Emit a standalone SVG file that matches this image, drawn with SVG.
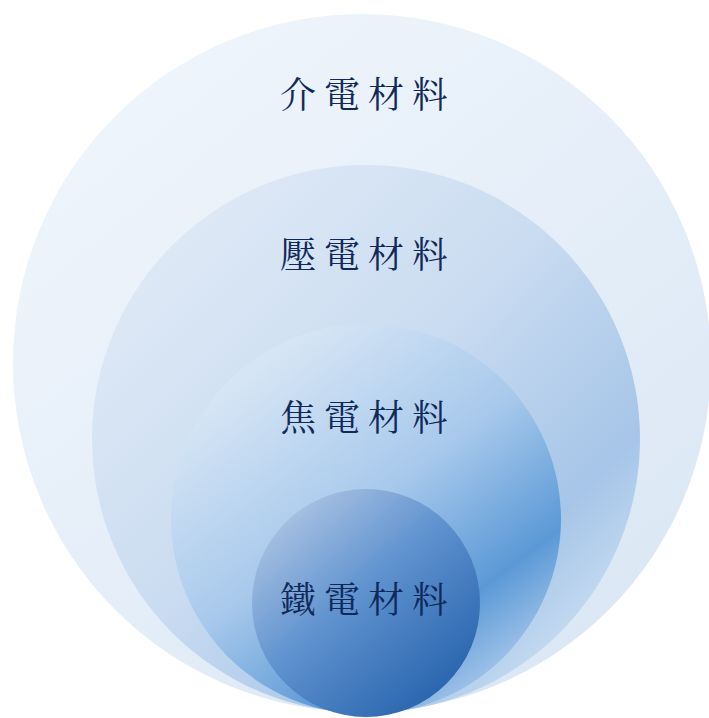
<svg xmlns="http://www.w3.org/2000/svg" width="709" height="718" viewBox="0 0 709 718">
  <defs>
    <linearGradient id="g1" x1="0.2" y1="0.1" x2="0.85" y2="0.9">
      <stop offset="0" stop-color="#eef4fb"/>
      <stop offset="0.6" stop-color="#e3edf8"/>
      <stop offset="1" stop-color="#dbe7f4"/>
    </linearGradient>
    <linearGradient id="g2" x1="0.2" y1="0.1" x2="0.9" y2="0.8">
      <stop offset="0" stop-color="#dde8f5"/>
      <stop offset="0.45" stop-color="#cadcf1"/>
      <stop offset="0.85" stop-color="#a6c5e8"/>
      <stop offset="1" stop-color="#c0d7ef"/>
    </linearGradient>
    <linearGradient id="g3" x1="0.3" y1="0.05" x2="0.9" y2="0.85">
      <stop offset="0" stop-color="#d6e5f5"/>
      <stop offset="0.45" stop-color="#a8c9ec"/>
      <stop offset="0.8" stop-color="#5b99d6"/>
      <stop offset="1" stop-color="#a2c4e9"/>
    </linearGradient>
    <linearGradient id="g4" x1="0.15" y1="0.1" x2="0.85" y2="0.9">
      <stop offset="0" stop-color="#a9c2e2"/>
      <stop offset="0.45" stop-color="#5f92cf"/>
      <stop offset="1" stop-color="#2864ad"/>
    </linearGradient>
  </defs>
  <style>
    .lbl { font-family: "Noto Serif CJK TC", "Noto Sans CJK TC", serif; font-size: 36px; fill: #0f2a5a; text-anchor: middle; letter-spacing: 8px; }
  </style>
  <rect width="709" height="718" fill="#ffffff"/>
  <g id="node-dielectric">
    <circle cx="362" cy="363" r="349" fill="url(#g1)"/>
    <text class="lbl" x="368" y="108">介電材料</text>
  </g>
  <g id="node-piezoelectric">
    <circle cx="366" cy="439" r="274" fill="url(#g2)"/>
    <text class="lbl" x="368" y="268">壓電材料</text>
  </g>
  <g id="node-pyroelectric">
    <circle cx="366" cy="519" r="195" fill="url(#g3)"/>
    <text class="lbl" x="368" y="431">焦電材料</text>
  </g>
  <g id="node-ferroelectric">
    <circle cx="366" cy="603" r="114" fill="url(#g4)"/>
    <text class="lbl" x="368" y="613">鐵電材料</text>
  </g>
  <g id="connectors"/>
</svg>
